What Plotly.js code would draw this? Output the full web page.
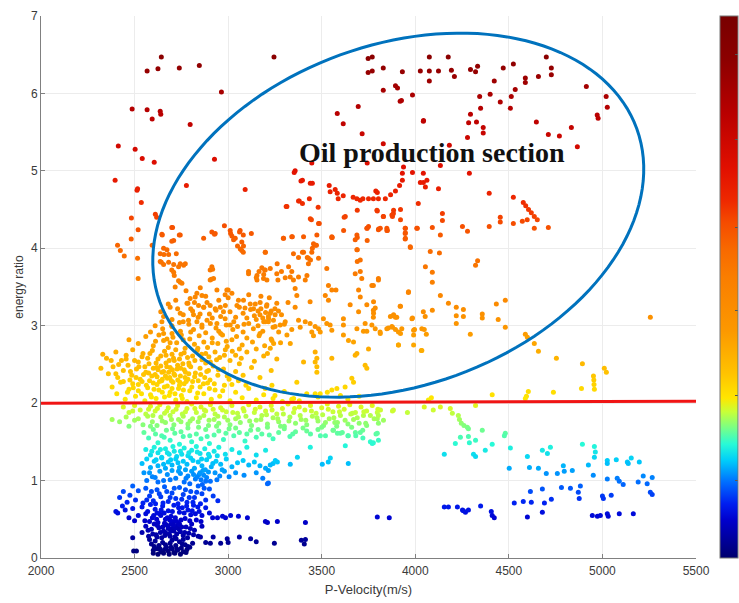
<!DOCTYPE html>
<html>
<head>
<meta charset="utf-8">
<script src="https://cdn.plot.ly/plotly-3.0.1.min.js"></script>
<style>
  html, body { margin: 0; padding: 0; background: #fff; }
  #chart { width: 739px; height: 603px; }
</style>
</head>
<body>
<div id="chart"></div>
<script>
// Samples: [P-velocity (m/s), energy ratio]

// high ratio, low velocity (outside the marked section)
const leftHigh = [
  [2643,6.47],[2567,6.29],[2625,6.32],[2739,6.33],[2846,6.36],[3245,6.47],[2964,6.02],[2487,5.80],
  [2567,5.79],[2594,5.67],[2637,5.77],[2640,5.73],[2797,5.60],[2413,5.32],[2503,5.28],[2541,5.16],
  [2605,5.11],[2927,5.15],[2396,4.88],[2777,4.81],[2516,4.77],[2513,4.75],[3091,4.76],[2536,4.59],
  [2611,4.44],[2618,4.40],[2483,4.39],[2519,4.24],[2482,4.12],[2409,4.04],[2424,3.97],[2445,3.90],
  [2516,3.87],[2519,3.61],[2648,4.17],[2703,4.27],[2739,4.17],[2709,4.10]
];

// top of the production section
const topSection = [
  [3615,5.61],[3583,5.74],[3695,5.83],[3716,5.48],[3748,6.45],[3748,6.27],[3770,6.47],[3770,6.29],
  [3829,6.33],[3829,6.04],[3894,6.10],[3905,6.07],[3926,5.91],[3931,6.28],[3985,5.98],[4027,6.29],
  [4075,6.47],[4075,6.29],[4075,6.16],[4124,6.29],[4176,6.47],[4193,6.30],[4209,6.22],[4295,6.31],
  [4322,6.28],[4333,6.35],[4344,5.96],[4349,5.81],[4295,5.73],[4285,5.62],[4327,5.63],[4363,5.56],
  [4363,5.49],[4279,5.43],[4400,5.99],[4422,6.16],[4454,5.89],[4470,6.33],[4508,5.81],[4513,5.96],
  [4534,6.05],[4524,6.38],[4588,6.20],[4588,6.14],[4658,6.22],[4700,6.47],[4727,6.33],[4727,6.24],
  [4647,5.63],[4711,5.47],[4770,5.45],[4834,5.56],[4866,5.31],[4914,6.09],[4972,5.72],[4977,5.68],
  [5020,5.96],[5026,5.82],[4043,5.64],[3919,5.90],[4044,5.65]
];

// middle of the production section
const midSection = [
  [3358,5.00],[3397,4.88],[3450,4.84],[3310,4.54],[3380,4.61],[3397,4.58],[3434,4.64],[3481,4.53],
  [3445,4.37],[3540,4.81],[3572,4.76],[3583,4.71],[3615,4.68],[3668,4.66],[3706,4.62],[3588,4.64],
  [3743,5.10],[3447,5.10],[3545,4.73],[3626,4.41],[3688,4.64],[3720,4.64],[3750,4.64],[3776,4.64],
  [3803,4.64],[3840,4.64],[3868,4.69],[3894,4.74],[3916,4.81],[3931,4.88],[3931,4.97],[3937,5.05],
  [3789,4.74],[3985,4.98],[4043,4.97],[4027,4.85],[4043,4.85],[4054,4.79],[4124,4.77],[4134,5.07],
  [4182,5.33],[4289,4.97],[4016,4.58],[3797,4.72],[3797,4.48],[3829,4.41],[3883,4.45],[3878,4.41],
  [3921,4.50],[3921,4.37],[4145,4.45],[4145,4.36],[4395,4.71],[4524,4.66],[4577,4.59],[4590,4.55],
  [4605,4.50],[4620,4.46],[4636,4.41],[4652,4.37],[4454,4.40],[4454,4.34],[4524,4.32],[4572,4.35],
  [4598,4.37],[4636,4.26],[4711,4.27],[4395,4.28],[4252,4.28],[4279,4.22],[4091,4.27],[4011,4.26],
  [3947,4.26],[3947,4.20],[3947,4.13],[4134,4.17],[3974,4.01],[4080,3.96],[4129,3.94],[3803,4.24],
  [3851,4.23],[3829,5.35],[3795,4.49],[3830,4.41],[3875,4.43],[3884,4.49],[3813,4.26],[3848,4.26],
  [3750,4.28],[3688,4.17],[3617,4.23],[3554,4.15],[3474,4.17],[3403,4.15],[3314,4.54],[3376,4.61],
  [3439,4.38],[3483,4.32],[3353,4.98],[3389,4.87],[3439,4.84],[4062,4.88]
];

// orange band, ratio 3 to 4.3
const orangeBand = [
  [2646,4.18],[2699,4.27],[2699,4.09],[2744,4.17],[2655,4.00],[2673,3.98],[2682,3.92],[2637,3.93],
  [2637,3.83],[2655,3.79],[2682,3.82],[2699,3.72],[2735,3.76],[2762,3.78],[2712,3.65],[2735,3.58],
  [2753,3.55],[2717,3.50],[2851,3.49],[2860,3.39],[2833,3.42],[2904,3.72],[2913,3.76],[2922,3.61],
  [2904,3.59],[2940,3.46],[2993,3.46],[2984,3.40],[3020,3.42],[2913,4.21],[2931,4.19],[2869,4.13],
  [3011,4.23],[3020,4.16],[3038,4.13],[3064,4.23],[3073,4.08],[3082,4.03],[3073,3.97],[3109,3.70],
  [3154,3.65],[3154,3.59],[3189,3.61],[3198,3.95],[2797,3.35],[2824,3.37],[2842,3.26],[2869,3.24],
  [2887,3.30],[2904,3.26],[2931,3.22],[2958,3.24],[2690,3.24],[2744,3.16],[2780,3.29],[2815,3.14],
  [2788,3.07],[2833,3.05],[2860,3.01],[2887,3.07],[2940,3.03],[2984,3.09],[3011,3.01],[3047,3.26],
  [3082,3.33],[3118,3.28],[3136,3.22],[3171,3.30],[3207,3.27],[2646,3.05],[2699,3.00],[2655,2.90],
  [2673,2.83],[2594,4.04],[2657,3.92],[2643,3.82],[2723,3.93],[2709,3.79],[2709,3.69],[2744,3.80],
  [2771,3.80],[2744,3.56],[2927,4.18],[2980,4.29],[3013,4.19],[3029,4.11],[3061,4.21],[3081,4.17],
  [3124,4.19],[3050,4.03],[3065,3.99],[3081,3.95],[3199,3.95],[2917,3.73],[2910,3.60],[3000,3.46],
  [3109,3.67],[3150,3.62],[3165,3.70],[3180,3.75],[3195,3.72],[3190,3.66],[3295,4.13],[3343,4.15],
  [3262,3.80],[3285,3.70],[3305,3.62],[3349,3.93],[3397,3.95],[3423,3.88],[3450,4.00],[3456,4.06],
  [3472,4.04],[3440,3.85],[3620,4.40],[3690,4.49],[3690,4.14],[3690,3.98],[3690,3.83],[3556,4.14],
  [3487,4.32],[3743,4.26],[3743,4.10],
  [3741,4.26],[3804,4.25],[3848,4.23],[3946,4.26],[3946,4.19],[4008,4.26],[3296,4.13],[3340,4.15],
  [3554,4.14],[3679,4.11],[3946,4.12],[3973,4.02],[3688,3.98],[3706,3.85],[3465,4.04],[3447,3.95],
  [3403,3.95],[3376,3.88],[3429,3.87],[3483,3.87],[3429,3.80],[3323,3.76],[3340,3.70],[3332,3.63],
  [3349,3.59],[3421,3.65],[3376,3.63],[3412,3.59],[3198,3.72],[3225,3.74],[3207,3.59],[3260,3.67],
  [3266,3.59],[3527,3.74],[3536,3.52],[3679,3.67],[3706,3.70],[3714,3.61],[3803,3.61],[3768,3.52],
  [3358,3.48],[3367,3.39],[3519,3.39],[3554,3.46],[3576,3.46],[3536,3.33],[3697,3.46],[3706,3.37],
  [3964,3.44],[3260,3.29],[3358,3.24],[3438,3.31],[3652,3.27],[3741,3.27],[3777,3.31],[3786,3.23],
  [3777,3.16],[3919,3.25],[3225,3.16],[3251,3.14],[3269,3.19],[3216,3.09],[3242,3.07],[3198,3.05],
  [3305,3.05],[3278,3.01],[3251,2.99],[3376,3.07],[3412,3.05],[3438,3.03],[3465,2.99],[3483,2.96],
  [3492,2.92],[3447,2.92],[3456,2.87],[3509,3.09],[3545,3.01],[3527,3.03],[3554,2.94],[3616,3.09],
  [3616,3.01],[3643,2.81],[3670,2.79],[3616,2.88],[3688,2.96],[3723,2.93],[3741,2.93],[3732,3.03],
  [3768,3.01],[3786,2.96],[3697,3.18],[3812,2.92],[3848,2.96],[3875,2.99],[3884,3.14],[3901,3.11],
  [3910,2.92],[3928,2.96],[3982,3.09],[3991,2.94],[4035,2.96],[4053,3.12],[3991,2.88],[3991,2.75],
  [3910,2.75],[4035,2.68],[3314,2.88],[3332,2.77],[3234,2.81],[3243,2.77],[3225,2.71],
  [4054,3.76],[4091,3.69],[4091,3.56],[4322,3.78],[4333,3.84],[3803,3.59],[3776,3.52],[3963,3.43],
  [4134,3.39],
  [3150,3.08],[3170,3.14],[3185,3.10],[3200,3.17],[3215,3.12],[3190,3.05],[3230,3.19],[3175,3.22],
  [3205,3.25],[3160,3.19],[3140,3.13],[3120,3.21],[3100,3.10],[3080,3.16],[3060,3.24],[3040,3.11],
  [3010,3.18],[2985,3.26],[2960,3.12],[2935,3.20],[2900,3.15],[2870,3.24],[2840,3.11],[2810,3.19],
  [2785,3.29],[2760,3.14],[2730,3.22],[2700,3.08],[2680,3.28],[2640,3.18],
  [2820,3.30],[2850,3.15],[2880,3.38],[2915,3.10],[2950,3.33],[2975,3.18],[3000,3.36],[3030,3.05],
  [3055,3.33],[3090,3.23],[3110,3.40],[3145,3.28],[3175,3.38],[3220,3.36],[3250,3.22],[3285,3.14],
  [3320,3.30],[2775,3.45],[2800,3.22],[2720,3.33],[2760,3.05],[2655,3.12],[2610,3.00],[2585,2.92],
  [2700,2.90],[2740,3.04],[2800,2.92],[2950,2.93],[3085,3.02],[3170,2.90]
];

// yellow band, ratio 2 to 3
const yellowBand = [
  [2650,2.96],[2700,2.99],[2745,2.93],[2790,3.02],[2815,2.95],[2860,2.98],[2880,2.91],[2905,3.03],
  [2935,2.97],[2960,2.90],[2990,3.01],[3025,2.95],[3050,2.99],[3080,2.92],[3110,3.03],[3135,2.96],
  [3160,3.00],[3185,2.93],[3215,3.05],[3240,2.98],[3270,2.92],[3300,3.02],[3340,2.95],[3385,2.98],
  [2470,2.82],[2520,2.77],[2560,2.86],[2600,2.74],[2630,2.88],[2655,2.81],[2680,2.72],[2705,2.85],
  [2725,2.78],[2750,2.88],[2770,2.71],[2795,2.83],[2820,2.76],[2845,2.87],[2870,2.79],[2890,2.72],
  [2915,2.84],[2945,2.77],[2970,2.88],[2995,2.73],[3020,2.82],[3045,2.86],[3075,2.75],[3100,2.84],
  [3130,2.79],[3165,2.87],[3195,2.74],[3230,2.83],[3280,2.78],
  [2330,2.63],[2350,2.58],[2400,2.66],[2430,2.55],[2455,2.62],[2490,2.69],[2520,2.53],[2545,2.64],
  [2570,2.58],[2595,2.68],[2615,2.52],[2640,2.61],[2660,2.67],[2685,2.55],[2700,2.63],[2720,2.69],
  [2740,2.57],[2765,2.65],[2790,2.52],[2810,2.61],[2835,2.68],[2860,2.56],[2880,2.64],[2905,2.53],
  [2930,2.66],[2955,2.59],[2985,2.69],[3010,2.55],[3040,2.62],[3070,2.58],[3100,2.66],[3140,2.54],
  [3190,2.61],[3260,2.57],
  [2320,2.45],[2360,2.38],[2385,2.47],[2410,2.33],[2440,2.42],[2465,2.49],[2485,2.36],[2510,2.44],
  [2530,2.31],[2555,2.47],[2575,2.39],[2600,2.45],[2620,2.34],[2640,2.48],[2655,2.41],[2675,2.32],
  [2690,2.46],[2710,2.38],[2730,2.49],[2745,2.35],[2765,2.43],[2785,2.31],[2800,2.47],[2825,2.39],
  [2850,2.45],[2875,2.33],[2895,2.42],[2920,2.48],[2945,2.36],[2975,2.44],[3005,2.31],[3040,2.41],
  [3080,2.36],[3125,2.46],[3170,2.33],[3230,2.42],
  [2380,2.21],[2405,2.12],[2425,2.27],[2450,2.05],[2470,2.18],[2490,2.25],[2505,2.09],[2520,2.16],
  [2540,2.28],[2555,2.03],[2570,2.20],[2585,2.11],[2600,2.26],[2615,2.06],[2630,2.17],[2645,2.29],
  [2660,2.08],[2675,2.22],[2690,2.14],[2705,2.27],[2720,2.04],[2735,2.19],[2750,2.10],[2765,2.25],
  [2780,2.02],[2795,2.16],[2810,2.28],[2830,2.07],[2850,2.21],[2870,2.12],[2890,2.26],[2910,2.05],
  [2930,2.17],[2955,2.09],[2980,2.23],[3010,2.03],[3040,2.14],[3075,2.07],[3110,2.19],[3150,2.04],
  [3190,2.11],[3240,2.06],[3290,2.02],[3340,2.05],[3380,2.03],
  [2610,2.37],[2625,2.43],[2648,2.31],[2668,2.52],[2682,2.40],[2697,2.29],[2712,2.55],[2727,2.44],
  [2742,2.27],[2758,2.51],[2772,2.40],[2648,2.14],[2665,2.35],[2700,2.19],[2740,2.23],[2770,2.33],
  [2580,2.29],[2560,2.40],[2520,2.24],[2500,2.55],[2475,2.30],[2455,2.57],[2590,2.08],[2620,2.24],
  [2685,2.10],[2715,2.36],[2755,2.06],[2790,2.38],[2840,2.29],[2880,2.52],[2900,2.19],
  [3250,2.10],[3300,2.15],[3350,2.06],[3420,2.12],[3480,2.08],[3530,2.14],[3600,2.10],[3640,2.05],
  [3700,2.09],[3367,2.27],[3661,2.32],[3670,2.27],[3625,2.21],[3581,2.19],[3554,2.17],[3465,2.12],
  [3492,2.12],[3234,2.23],[3198,2.19],[3688,2.64],[3679,2.62],[3750,2.70],[3732,2.49],[3741,2.45],
  [3465,2.66],[3474,2.58],[3465,2.53],[3474,2.47],[3474,2.40],[3403,2.53],[3554,2.58],
  [2462,2.14],[2478,2.41],[2493,2.20],[2508,2.33],[2523,2.47],[2537,2.12],[2548,2.37],[2563,2.23],
  [2577,2.51],[2592,2.35],[2604,2.18],[2618,2.46],[2633,2.28],[2646,2.40],[2659,2.21],[2672,2.47],
  [2688,2.33],[2702,2.43],[2716,2.12],[2731,2.30],[2746,2.45],[2761,2.17],[2776,2.28],[2792,2.49],
  [2806,2.21],[2821,2.34],[2837,2.13],[2853,2.37],[2868,2.25],[2886,2.41],[2903,2.30],[2926,2.25],
  [2948,2.43],[2971,2.16],[2995,2.35],[3020,2.24],[3055,2.29],[3095,2.23],[2540,2.60],[2582,2.64],
  [2625,2.57],[2668,2.62],[2708,2.58],[2748,2.63],[2783,2.59],[2822,2.55],[2858,2.63],[2897,2.60],
  [2938,2.56],[2980,2.62],[3022,2.67],[3060,2.51],[2612,2.80],[2690,2.78],[2760,2.82],[2838,2.71],
  [2915,2.78],[2990,2.80],[3060,2.70],[3150,2.70],[3210,2.64],[2375,2.55],[2415,2.50],[2440,2.28],
  [2400,2.38]
];

// green band, ratio 1.45 to 2
const greenBand = [
  [2380,1.79],[2420,1.76],[2455,1.82],[2470,1.70],[2490,1.90],[2500,1.78],
  [2440,1.95],[2470,1.88],[2500,1.97],[2530,1.91],[2560,1.86],[2585,1.96],[2610,1.90],[2635,1.98],
  [2660,1.87],[2680,1.94],[2705,1.89],[2730,1.97],[2755,1.86],[2780,1.93],[2805,1.99],[2830,1.88],
  [2855,1.95],[2880,1.90],[2905,1.98],[2930,1.86],[2960,1.94],[2990,1.89],[3020,1.97],[3050,1.87],
  [3080,1.93],[3110,1.98],[3140,1.88],[3170,1.95],[3200,1.90],[3230,1.97],[3260,1.86],[3290,1.93],
  [3320,1.99],[3350,1.88],[3380,1.95],[3410,1.91],[3440,1.97],[3470,1.87],[3500,1.94],[3530,1.99],
  [3560,1.89],[3590,1.96],[3620,1.92],[3650,1.98],[3680,1.88],[3710,1.95],[3740,1.90],[3770,1.97],
  [3800,1.92],
  [2520,1.80],[2545,1.72],[2570,1.83],[2595,1.76],[2620,1.71],[2640,1.82],[2665,1.75],[2690,1.84],
  [2710,1.72],[2735,1.79],[2760,1.83],[2785,1.73],[2810,1.80],[2840,1.76],[2870,1.84],[2895,1.71],
  [2925,1.79],[2950,1.74],[2980,1.82],[3010,1.72],[3040,1.80],[3065,1.75],[3095,1.83],[3125,1.71],
  [3150,1.78],[3180,1.84],[3210,1.73],[3240,1.81],[3270,1.76],[3300,1.70],[3330,1.82],[3360,1.74],
  [3390,1.79],[3420,1.72],[3450,1.83],[3480,1.77],[3510,1.71],[3540,1.80],[3570,1.75],[3600,1.84],
  [3640,1.73],[3670,1.79],[3700,1.74],[3740,1.71],[3780,1.80],[3830,1.78],
  [2550,1.62],[2575,1.55],[2600,1.66],[2625,1.49],[2645,1.58],[2670,1.65],[2690,1.52],[2715,1.61],
  [2740,1.47],[2760,1.57],[2785,1.68],[2805,1.50],[2830,1.60],[2855,1.54],[2880,1.66],[2900,1.48],
  [2925,1.59],[2950,1.64],[2975,1.53],[3005,1.67],[3030,1.58],[3060,1.62],[3090,1.51],[3120,1.65],
  [3150,1.56],[3180,1.60],[3210,1.69],[3240,1.54],[3270,1.62],[3300,1.67],[3330,1.57],[3360,1.63],
  [3400,1.68],[3440,1.60],[3480,1.66],[3520,1.58],[3560,1.65],[3600,1.61],[3640,1.58],[3680,1.62],
  [3720,1.55],[3760,1.50],[3790,1.60],
  [3664,1.87],[3723,1.84],[3814,1.91],[3878,1.90],[3797,1.80],[3803,1.74],[3735,1.74],[3719,1.65],
  [3682,1.58],[3706,1.62],[3776,1.49],[3770,1.48],[3803,1.52],[3797,1.61],[3626,1.45],[3584,1.61],
  [3610,1.62],[3563,1.65],[3642,1.58],[3493,1.58],[3520,1.75],[3584,1.75],
  [2575,1.92],[2598,1.84],[2622,1.93],[2648,1.77],[2672,1.90],[2697,1.79],[2722,1.92],[2748,1.76],
  [2772,1.89],[2797,1.77],[2822,1.93],[2848,1.81],[2873,1.91],[2898,1.78],[2920,1.92],[2945,1.83],
  [2970,1.91],[2998,1.78],[3025,1.88],[3055,1.82],[3085,1.90],[3115,1.77],[3145,1.92],[3175,1.79],
  [3205,1.85],[3235,1.91],[3265,1.80],[3295,1.86],[3325,1.77],[3355,1.93],[3385,1.84],[3415,1.78],
  [3445,1.90],[3475,1.81],[3505,1.85],[3535,1.92],[3565,1.81],[3595,1.89],[3625,1.78],[3655,1.86],
  [3690,1.81],[3725,1.89],[3760,1.84],[2585,1.70],[2612,1.60],[2658,1.56],[2703,1.67],[2748,1.63],
  [2795,1.58],[2842,1.69],[2888,1.57],[2938,1.70],[2988,1.61],[3040,1.68],[3100,1.60],[3160,1.66],
  [3220,1.59],[3280,1.70],[3345,1.60],[3420,1.64],[3500,1.69],[3580,1.70],[3660,1.69]
];

// cyan band, ratio 0.95 to 1.45
const cyanBand = [
  [2560,1.40],[2585,1.33],[2605,1.43],[2625,1.36],[2645,1.30],[2665,1.41],[2685,1.34],[2705,1.44],
  [2725,1.31],[2745,1.38],[2765,1.42],[2785,1.32],[2805,1.39],[2830,1.44],[2850,1.35],[2875,1.41],
  [2900,1.31],[2925,1.38],[2950,1.43],[2985,1.34],[3020,1.40],[3060,1.36],[3100,1.43],[3150,1.33],
  [3200,1.39],
  [2540,1.22],[2565,1.28],[2585,1.17],[2605,1.25],[2625,1.19],[2645,1.29],[2665,1.16],[2680,1.24],
  [2700,1.20],[2720,1.28],[2740,1.17],[2760,1.25],[2780,1.21],[2800,1.29],[2820,1.16],[2840,1.24],
  [2860,1.19],[2885,1.27],[2910,1.18],[2935,1.25],[2960,1.21],[2990,1.28],[3020,1.18],[3050,1.23],
  [3080,1.26],[3110,1.20],[3140,1.24],[3170,1.19],[3200,1.16],[3240,1.22],
  [2580,1.10],[2610,1.04],[2635,1.12],[2655,1.00],[2675,1.08],[2700,1.13],[2720,1.03],[2745,1.09],
  [2765,0.98],[2785,1.06],[2805,1.12],[2825,1.02],[2845,1.08],[2865,1.13],[2885,1.04],[2905,0.99],
  [2930,1.10],[2955,1.06],[2980,1.12],[3005,1.05],[3040,1.10],[3085,1.07],[3150,1.10],[3185,1.03],
  [3215,0.97],[2835,1.05],[2855,1.01],[2870,1.07],[2850,1.10],[2880,0.99],[2815,1.08],
  [3439,1.43],[3546,1.29],[3535,1.24],[3503,1.21],[3642,1.22],[3332,1.21],[3370,1.30],[3252,1.26],
  [3263,1.24],[3225,1.20],[3215,1.13],[3210,0.96],
  [2592,1.38],[2615,1.27],[2638,1.40],[2655,1.21],[2675,1.36],[2693,1.27],[2712,1.38],[2732,1.23],
  [2752,1.34],[2772,1.14],[2790,1.36],[2812,1.26],[2835,1.37],[2858,1.28],[2878,1.14],[2895,1.34],
  [2918,1.22],[2942,1.32],[2968,1.14],[2595,1.05],[2625,0.98],[2690,1.01],[2735,1.12],[2775,1.03],
  [2795,0.96],[2862,0.95],[2895,1.11],[2940,1.01],[2565,1.00],[2550,1.10]
];

// blue band, ratio below 0.95
const blueBand = [
  [2420,0.78],[2440,0.86],[2460,0.72],[2475,0.81],[2490,0.93],[2505,0.75],[2520,0.87],[2545,0.71],
  [2560,0.90],[2580,0.80],[2600,0.74],[2620,0.88],[2640,0.79],[2660,0.92],[2680,0.73],[2700,0.84],
  [2720,0.77],[2740,0.91],[2760,0.82],[2780,0.72],[2800,0.86],[2820,0.78],[2840,0.93],[2860,0.83],
  [2880,0.75],[2900,0.89],[2920,0.80],[2945,0.74],
  [2400,0.60],[2410,0.58],[2435,0.67],[2450,0.62],[2470,0.52],[2490,0.64],[2500,0.48],
  [2520,0.55],[2540,0.66],[2555,0.48],[2570,0.60],[2585,0.69],[2595,0.52],[2610,0.63],[2625,0.46],
  [2635,0.57],[2650,0.67],[2665,0.50],[2680,0.61],[2695,0.54],[2710,0.68],[2725,0.47],[2740,0.59],
  [2755,0.65],[2770,0.51],[2785,0.62],[2800,0.56],[2815,0.68],[2830,0.49],[2845,0.60],[2860,0.55],
  [2880,0.65],[2900,0.58],
  [2540,0.33],[2560,0.41],[2575,0.28],[2590,0.37],[2605,0.44],[2615,0.30],[2630,0.39],[2645,0.26],
  [2655,0.35],[2670,0.43],[2685,0.31],[2700,0.38],[2715,0.27],[2730,0.42],[2745,0.34],[2760,0.29],
  [2775,0.40],[2790,0.32],[2805,0.44],[2820,0.36],[2840,0.28],[2860,0.41],
  [2650,0.40],[2665,0.33],[2680,0.38],[2695,0.44],[2710,0.35],[2725,0.31],[2660,0.45],[2690,0.28],
  [2720,0.39],[2740,0.44],[2705,0.47],[2675,0.52],[2640,0.55],[2620,0.58],
  [2495,0.09],[2510,0.09],[2590,0.18],[2600,0.10],[2610,0.22],[2620,0.12],[2630,0.16],[2640,0.08],
  [2650,0.20],[2660,0.11],[2670,0.14],[2680,0.09],[2690,0.19],[2700,0.12],[2710,0.07],[2720,0.16],
  [2730,0.10],[2740,0.21],[2750,0.13],[2760,0.08],[2770,0.17],[2780,0.11],[2795,0.14],[2810,0.19],
  [2600,0.06],[2625,0.05],[2655,0.06],[2685,0.05],[2715,0.06],[2745,0.05],[2775,0.07],[2490,0.26],
  [2852,0.27],[2880,0.20],[2905,0.19],[2920,0.27],[2960,0.19],[2995,0.25],[3000,0.20],[2917,0.52],
  [2943,0.52],[2970,0.54],[2986,0.52],[3013,0.55],[3055,0.54],[3103,0.52],[3199,0.47],[3210,0.46],
  [3263,0.47],[3413,0.46],[3247,0.19],[3391,0.23],[3413,0.24],[3407,0.18],[3150,0.21],[3120,0.25],
  [3060,0.27],
  [2565,0.75],[2590,0.86],[2612,0.70],[2632,0.83],[2652,0.71],[2672,0.86],[2690,0.78],[2712,0.90],
  [2732,0.70],[2752,0.76],[2772,0.88],[2792,0.78],[2812,0.72],[2832,0.85],[2852,0.70],[2872,0.90],
  [2560,0.57],[2580,0.47],[2602,0.55],[2618,0.50],[2642,0.62],[2658,0.58],[2688,0.49],[2702,0.60],
  [2718,0.52],[2735,0.65],[2748,0.49],[2765,0.58],[2778,0.67],[2795,0.48],[2808,0.61],[2825,0.57],
  [2838,0.66],[2855,0.47],[2572,0.36],[2597,0.31],[2622,0.42],[2638,0.33],[2662,0.29],[2678,0.41],
  [2693,0.35],[2708,0.43],[2722,0.25],[2738,0.37],[2752,0.40],[2768,0.33],[2783,0.26],[2798,0.38],
  [2815,0.30],[2605,0.15],[2635,0.12],[2665,0.17],[2695,0.14],[2725,0.12],[2755,0.18],[2785,0.15],
  [2580,0.24],[2620,0.27],[2700,0.23],[2760,0.24]
];

// high-velocity samples on the right
const rightSide = [
  [3921,3.25],[3776,3.20],[3776,3.11],[3883,3.13],[3867,3.12],[3894,3.11],[3813,2.90],[3856,2.97],
  [3878,2.98],[3894,2.95],[3921,2.90],[3985,3.10],[4043,3.18],[4091,3.20],[3996,2.95],[4048,2.95],
  [4059,2.89],[3910,2.75],[4032,2.68],[4177,3.29],[4219,3.24],[4219,3.13],[4219,3.03],[4257,3.21],
  [4257,3.12],[4294,2.89],[4358,3.15],[4358,3.10],[4433,3.28],[4481,3.33],[4443,3.08],[4481,2.98],
  [4588,2.89],[4599,2.85],[4636,2.77],[4658,2.67],[4754,2.58],[4893,2.51],[5010,2.45],[5021,2.40],
  [4952,2.35],[4954,2.30],[4955,2.24],[4957,2.18],[4888,2.19],[4738,2.14],[4604,2.15],[4594,2.09],
  [4588,2.06],[4411,2.11],[5256,3.11],[4322,1.97],[4086,2.07],[4070,2.04],
  [3797,1.88],[3803,1.84],[3883,1.91],[3958,1.88],[4048,1.95],[4096,1.91],[4134,1.95],[4187,1.93],
  [4198,1.87],[4230,1.84],[4236,1.79],[4246,1.74],[4260,1.71],[4278,1.69],[4284,1.67],[4358,1.65],
  [4481,1.61],[4476,1.58],[4241,1.56],[4284,1.57],[4289,1.49],[4322,1.52],[4214,1.48],[4374,1.39],
  [4411,1.47],[4311,1.34],[4322,1.31],[4155,1.34],[4508,1.42],[4599,1.31],[4679,1.39],[4706,1.35],
  [4722,1.43],[4610,1.17],[4658,1.16],[4502,1.16],[4700,1.09],[4759,1.09],[4791,1.19],[4796,1.12],
  [4839,1.13],[4893,1.47],[4957,1.44],[4962,1.37],[4957,1.30],[4925,1.20],[4951,1.07],[5026,1.26],
  [5026,1.22],[5074,1.27],[5133,1.24],[5154,1.29],[5138,1.22],[5197,1.24],[5079,1.03],[5090,0.99],
  [5111,0.95],[5026,1.02],[5218,1.06],[5191,0.98],[5239,0.96],[5266,1.04],[5256,0.85],[5266,0.82],
  [4615,0.86],[4679,0.89],[4781,0.91],[4829,0.90],[4882,0.93],[4871,0.85],[4876,0.77],[5000,0.80],
  [5005,0.77],[5047,0.81],[4727,0.76],[4690,0.71],[4577,0.73],[4620,0.72],[4529,0.71],[4679,0.59],
  [4599,0.53],[4406,0.60],[4411,0.55],[4422,0.52],[4349,0.67],[4155,0.66],[4177,0.66],[4225,0.66],
  [4252,0.62],[4268,0.59],[4284,0.62],[4257,0.61],[3797,0.53],[3861,0.52],[4946,0.55],[4973,0.54],
  [4989,0.55],[5026,0.57],[5031,0.54],[5090,0.57],[5165,0.57]
];

const xTicks = [2000, 2500, 3000, 3500, 4000, 4500, 5000, 5500];
const yTicks = [0, 1, 2, 3, 4, 5, 6, 7];
const thresholdRatio = [2.0, 2.025];   // red cut-off line, left and right ends
const sectionLabel = 'Oil production section';

const samples = [].concat(blueBand, cyanBand, greenBand, yellowBand, orangeBand,
                          midSection, topSection, leftHigh, rightSide);
const pVelocity = samples.map(p => p[0]);
const energyRatio = samples.map(p => p[1]);

// jet-like palette, stretched so that yellow sits near ratio 2
const palette = [
  [0.000, 'rgb(0,0,110)'],
  [0.030, 'rgb(0,0,150)'],
  [0.070, 'rgb(0,0,205)'],
  [0.100, 'rgb(0,30,240)'],
  [0.140, 'rgb(0,110,255)'],
  [0.180, 'rgb(0,205,250)'],
  [0.210, 'rgb(40,250,215)'],
  [0.240, 'rgb(120,255,135)'],
  [0.270, 'rgb(200,255,55)'],
  [0.295, 'rgb(255,230,0)'],
  [0.340, 'rgb(255,195,0)'],
  [0.420, 'rgb(252,152,0)'],
  [0.520, 'rgb(250,125,0)'],
  [0.570, 'rgb(248,105,0)'],
  [0.620, 'rgb(245,75,0)'],
  [0.660, 'rgb(238,40,0)'],
  [0.720, 'rgb(225,15,0)'],
  [0.820, 'rgb(185,0,0)'],
  [0.920, 'rgb(140,0,0)'],
  [1.000, 'rgb(120,0,0)']
];

// rotated ellipse around the production section (pixel-scale geometry)
function ellipsePath(cx, cy, a, b, deg, pxPerX, pxPerY) {
  const th = deg * Math.PI / 180;
  const pts = [];
  for (let i = 0; i <= 144; i++) {
    const t = i / 144 * 2 * Math.PI;
    const u = a * Math.cos(t), v = b * Math.sin(t);
    const dx = u * Math.cos(th) - v * Math.sin(th);
    const dy = u * Math.sin(th) + v * Math.cos(th);
    pts.push((cx + dx / pxPerX).toFixed(2) + ',' + (cy + dy / pxPerY).toFixed(4));
  }
  return 'M' + pts.join('L') + 'Z';
}

const axisFont = { family: 'Liberation Sans, Arial, sans-serif', size: 12, color: '#3a3a3a' };

const trace = {
  type: 'scatter',
  mode: 'markers',
  x: pVelocity,
  y: energyRatio,
  marker: {
    size: 5,
    color: energyRatio,
    cmin: 0,
    cmax: 7,
    colorscale: palette,
    line: { width: 0 },
    showscale: true,
    colorbar: {
      x: 1.0366, xanchor: 'left', xpad: 0,
      y: 0.5, yanchor: 'middle', ypad: 0,
      len: 1, lenmode: 'fraction',
      thickness: 18, thicknessmode: 'pixels',
      outlinewidth: 1, outlinecolor: '#777',
      tickmode: 'array', tickvals: [1.0, 2.1, 3.2, 4.27, 5.4, 6.5],
      ticks: 'inside', ticklen: 3, tickcolor: '#555',
      showticklabels: false
    }
  },
  hoverinfo: 'skip'
};

const layout = {
  width: 739, height: 603,
  margin: { l: 41, r: 43, t: 16, b: 45, autoexpand: false },
  paper_bgcolor: '#fff', plot_bgcolor: '#fff',
  showlegend: false,
  font: axisFont,
  xaxis: {
    range: [2000, 5500], tickmode: 'array', tickvals: xTicks,
    ticks: 'inside', ticklen: 4, tickcolor: '#808080',
    showline: true, linecolor: '#808080', linewidth: 1,
    showgrid: true, gridcolor: '#ececec', gridwidth: 1, zeroline: false,
    tickfont: axisFont, ticklabelstandoff: 2,
    title: { text: 'P-Velocity(m/s)', font: { family: axisFont.family, size: 13, color: '#3a3a3a' }, standoff: 7 }
  },
  yaxis: {
    range: [0, 7], tickmode: 'array', tickvals: yTicks,
    ticks: 'inside', ticklen: 4, tickcolor: '#808080',
    showline: true, linecolor: '#808080', linewidth: 1,
    showgrid: true, gridcolor: '#ececec', gridwidth: 1, zeroline: false,
    tickfont: axisFont,
    title: { text: 'energy ratio', font: { family: axisFont.family, size: 12, color: '#3a3a3a' }, standoff: 4 }
  },
  shapes: [
    {
      type: 'line', xref: 'x', yref: 'y',
      x0: 2000, x1: 5500, y0: thresholdRatio[0], y1: thresholdRatio[1],
      line: { color: 'rgb(240,20,20)', width: 3 }
    },
    {
      type: 'path', xref: 'x', yref: 'y',
      path: ellipsePath(3909, 4.428, 253.7, 170.4, 19.9, 655 / 3500, 542 / 7),
      line: { color: 'rgb(0,114,189)', width: 3 }
    }
  ],
  annotations: [
    {
      x: 4088, y: 5.24, xref: 'x', yref: 'y',
      xanchor: 'center', yanchor: 'middle', showarrow: false,
      text: sectionLabel,
      font: { family: 'Liberation Serif, Times New Roman, serif', size: 28, color: '#111', weight: 'bold' }
    }
  ]
};

Plotly.newPlot('chart', [trace], layout, { staticPlot: true, displayModeBar: false });
</script>
</body>
</html>
